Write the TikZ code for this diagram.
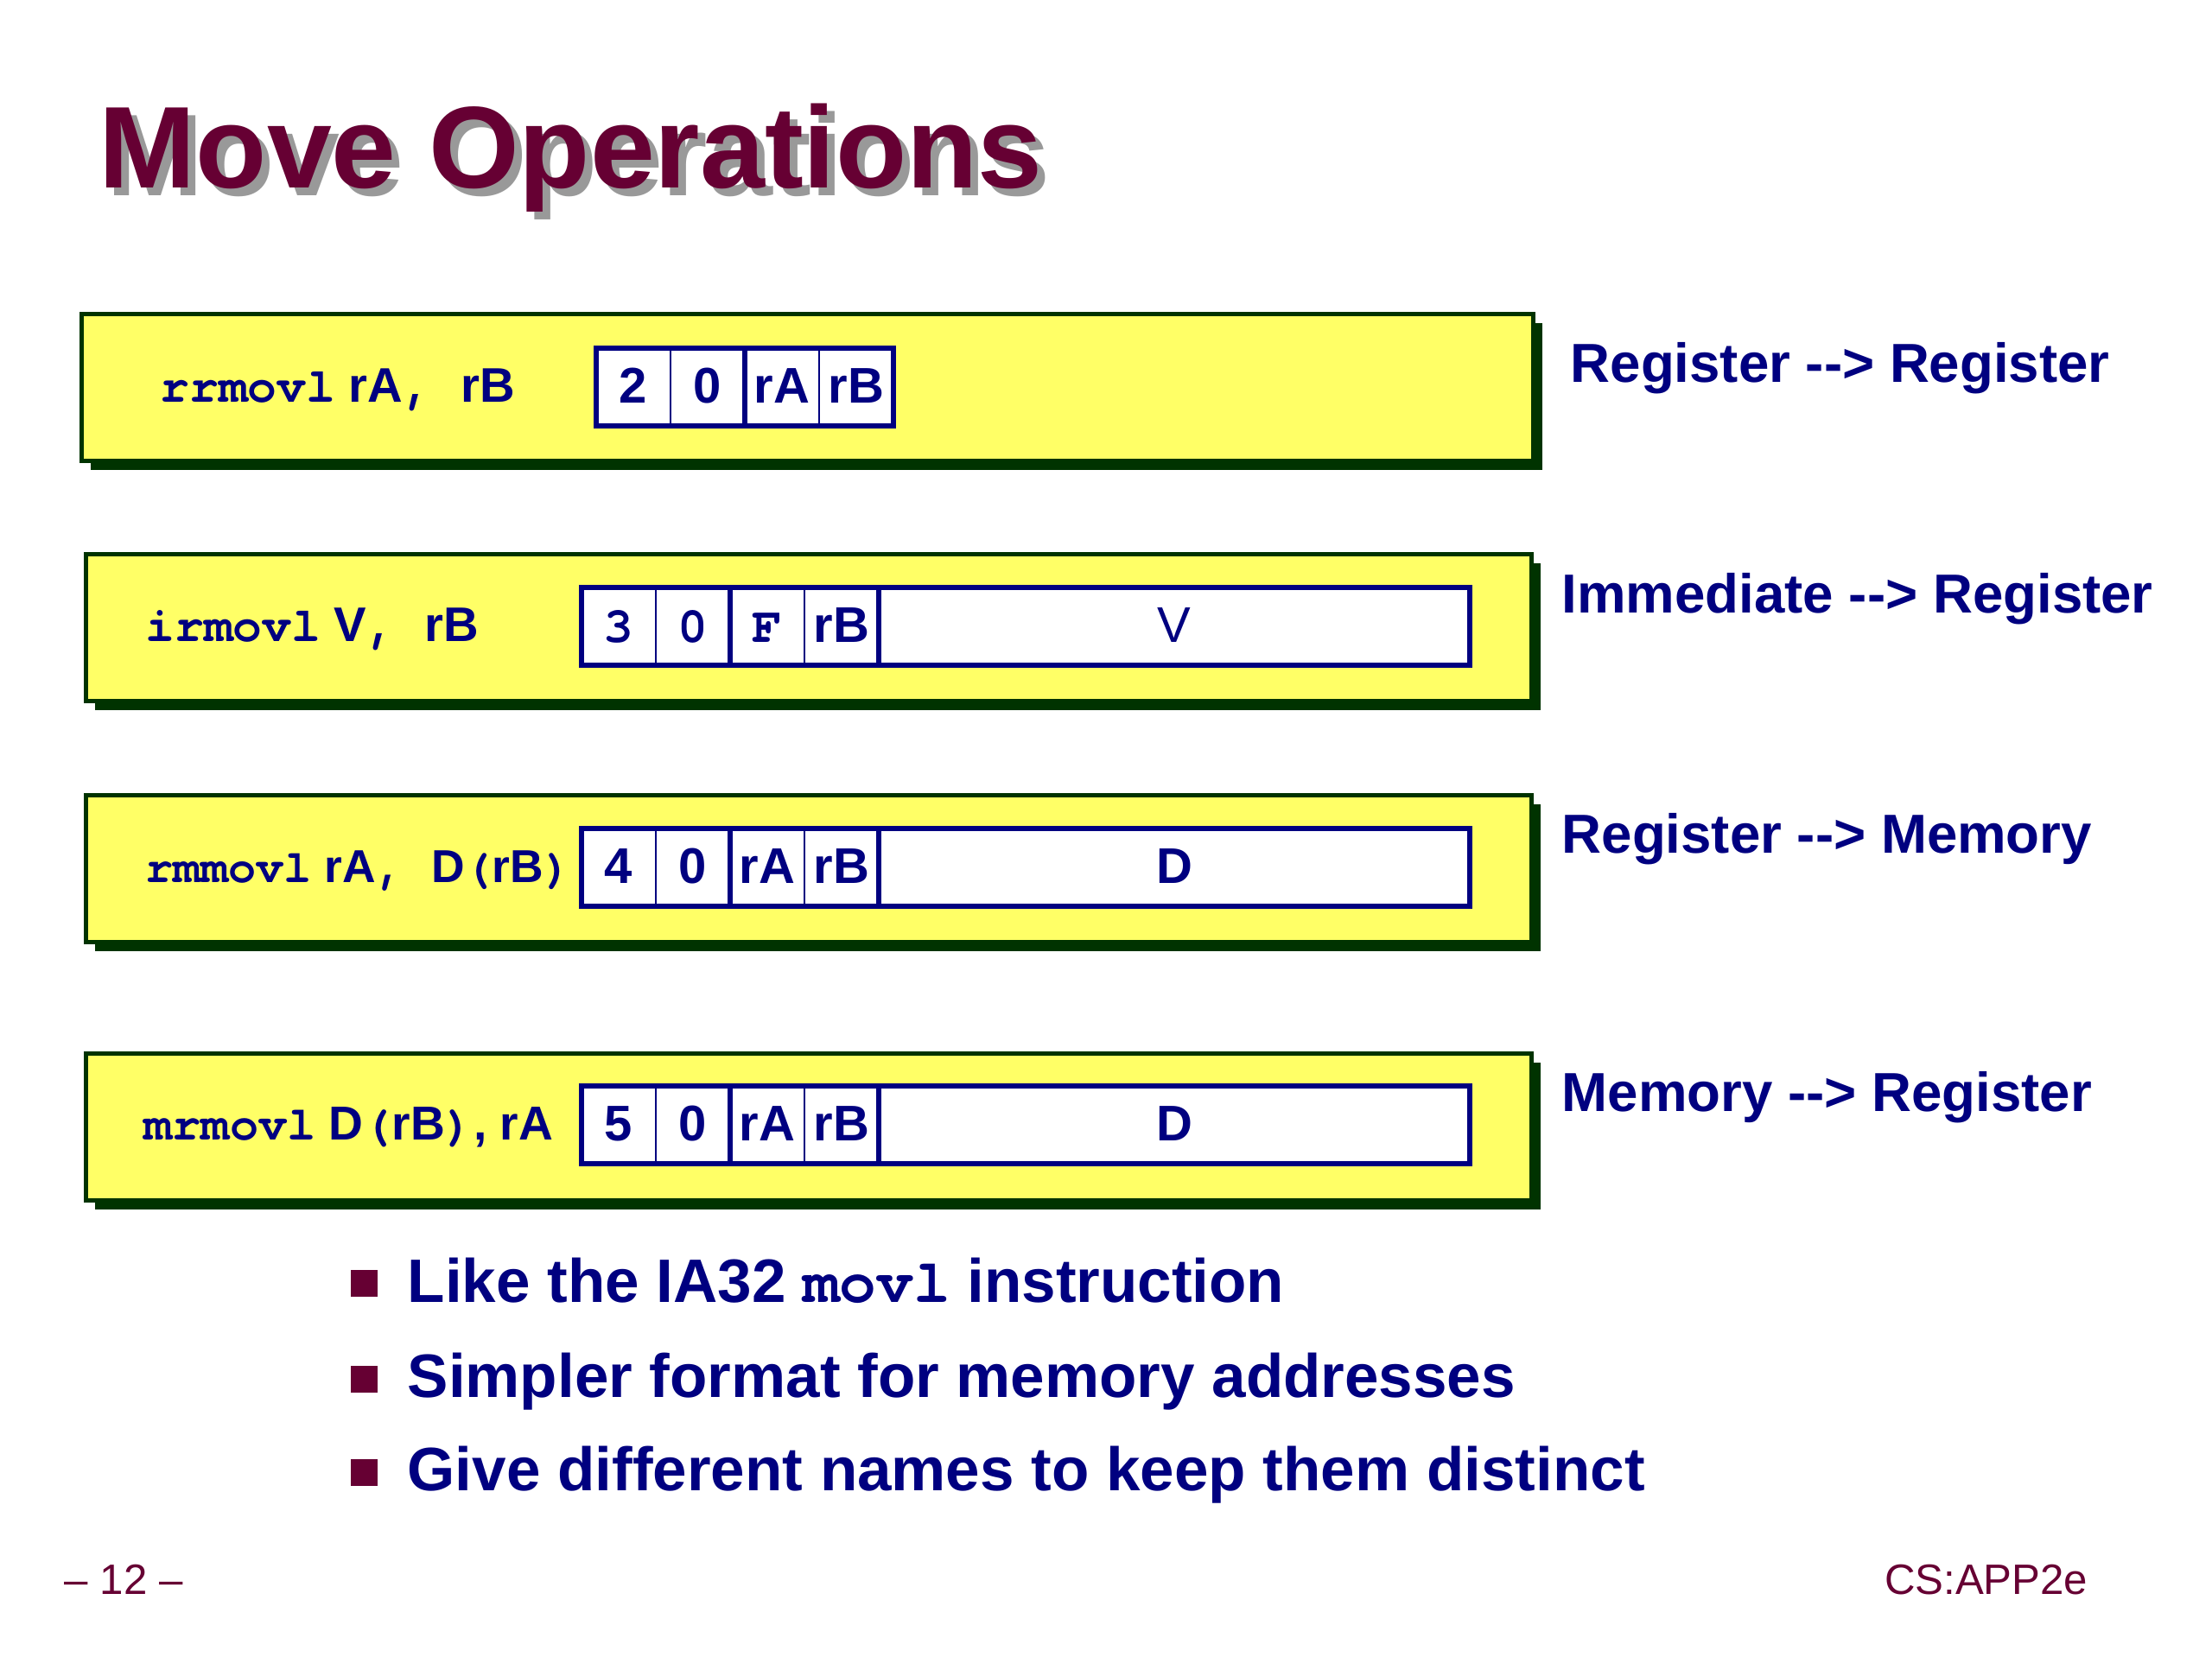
\documentclass[tikz,border=0pt]{standalone}
\usepackage{fontspec}
\setmainfont{Liberation Sans}
\setmonofont{texgyrecursor-regular.otf}[BoldFont=texgyrecursor-bold.otf]
\usetikzlibrary{positioning,shadows}

\definecolor{slidenavy}{RGB}{0,0,128}
\definecolor{slidemaroon}{RGB}{102,0,51}
\definecolor{boxyellow}{RGB}{255,255,102}
\definecolor{boxgreen}{RGB}{0,51,0}

\newcommand{\opc}[1]{{\ttfamily\bfseries #1}}
\newcommand{\cellfont}{\fontsize{16.5}{18}\selectfont\bfseries}

\tikzset{
  instrbox/.style={draw=boxgreen, line width=1.3pt, fill=boxyellow, anchor=north west,
    inner sep=0, minimum height=1.70cm,
    drop shadow={shadow xshift=0.11cm, shadow yshift=-0.11cm, fill=boxgreen, opacity=1}},
  cell/.style={draw=slidenavy, line width=0.6pt, fill=white, inner sep=0, outer sep=0,
    minimum width=0.86cm, minimum height=0.90cm, anchor=west, text=slidenavy,
    text height=2ex, text depth=0pt, font=\cellfont},
  encframe/.style={draw=slidenavy, line width=1.5pt},
  oplabel/.style={anchor=base west, inner sep=0, text=slidenavy,
    font=\fontsize{16}{18}\selectfont\bfseries},
  kindlabel/.style={anchor=base west, inner sep=0, text=slidenavy,
    font=\fontsize{18.1}{20}\selectfont\bfseries},
  pointtext/.style={anchor=base west, inner sep=0, text=slidenavy,
    font=\fontsize{20.2}{23}\selectfont\bfseries},
  bulletsq/.style={fill=slidemaroon, inner sep=0, minimum size=0.31cm},
  titletext/.style={anchor=base west, inner sep=0, font=\fontsize{38.3}{42}\selectfont\bfseries},
  foot/.style={inner sep=0, text=slidemaroon, font=\fontsize{14}{16}\selectfont},
}

\begin{document}
\begin{tikzpicture}
\useasboundingbox[fill=white] (0,0) rectangle (25.6,-19.18);

% title
\node[titletext, text=black!40] (titleshade) at (1.23,-2.27) {Move Operations};
\node[titletext, text=slidemaroon] (title) at (1.14,-2.18) {Move Operations};

% instruction boxes
\node[instrbox, minimum width=16.80cm] (rrbox) at (0.92,-3.61) {};
\node[instrbox, minimum width=16.73cm] (irbox) at (0.97,-6.39) {};
\node[instrbox, minimum width=16.73cm] (rmbox) at (0.97,-9.18) {};
\node[instrbox, minimum width=16.73cm] (mrbox) at (0.97,-12.17) {};

% assembler forms
\node[oplabel] (rrtext) at (1.85,-4.66) {\opc{rrmovl} rA\opc{, }rB};
\node[oplabel] (irtext) at (1.68,-7.43) {\opc{irmovl} V\opc{, }rB};
\node[oplabel, font=\fontsize{15.2}{18}\selectfont\bfseries] (rmtext) at (1.68,-10.22)
  {\opc{rmmovl} rA\opc{, }D\opc{(}rB\opc{)}};
\node[oplabel, font=\fontsize{15.7}{18}\selectfont\bfseries] (mrtext) at (1.66,-13.20)
  {\opc{mrmovl} D\opc{(}rB\opc{)}, rA};

% rrmovl encoding
\node[cell] (rr1) at (6.90,-4.48) {2};
\node[cell, right=0pt of rr1] (rr2) {0};
\node[cell, right=0pt of rr2] (rr3) {rA};
\node[cell, right=0pt of rr3] (rr4) {rB};
\draw[encframe] (rr1.north west) rectangle (rr4.south east);
\draw[encframe] (rr2.north east) -- (rr2.south east);

% irmovl encoding
\node[cell] (ir1) at (6.73,-7.25) {\opc{3}};
\node[cell, right=0pt of ir1] (ir2) {\opc{0}};
\node[cell, right=0pt of ir2] (ir3) {\opc{F}};
\node[cell, right=0pt of ir3] (ir4) {rB};
\node[cell, right=0pt of ir4, minimum width=6.84cm] (ir5) {\mdseries V};
\draw[encframe] (ir1.north west) rectangle (ir5.south east);
\draw[encframe] (ir2.north east) -- (ir2.south east) (ir4.north east) -- (ir4.south east);

% rmmovl encoding
\node[cell] (rm1) at (6.73,-10.04) {4};
\node[cell, right=0pt of rm1] (rm2) {0};
\node[cell, right=0pt of rm2] (rm3) {rA};
\node[cell, right=0pt of rm3] (rm4) {rB};
\node[cell, right=0pt of rm4, minimum width=6.84cm] (rm5) {D};
\draw[encframe] (rm1.north west) rectangle (rm5.south east);
\draw[encframe] (rm2.north east) -- (rm2.south east) (rm4.north east) -- (rm4.south east);

% mrmovl encoding
\node[cell] (mr1) at (6.73,-13.02) {5};
\node[cell, right=0pt of mr1] (mr2) {0};
\node[cell, right=0pt of mr2] (mr3) {rA};
\node[cell, right=0pt of mr3] (mr4) {rB};
\node[cell, right=0pt of mr4, minimum width=6.84cm] (mr5) {D};
\draw[encframe] (mr1.north west) rectangle (mr5.south east);
\draw[encframe] (mr2.north east) -- (mr2.south east) (mr4.north east) -- (mr4.south east);

% what moves where
\node[kindlabel] (rrkind) at (18.17,-4.43) {Register -{}-> Register};
\node[kindlabel] (irkind) at (18.07,-7.10) {Immediate -{}-> Register};
\node[kindlabel] (rmkind) at (18.07,-9.88) {Register -{}-> Memory};
\node[kindlabel] (mrkind) at (18.07,-12.87) {Memory -{}-> Register};

% bullet points
\node[bulletsq] (dot1) at (4.215,-14.86) {};
\node[bulletsq] (dot2) at (4.215,-15.96) {};
\node[bulletsq] (dot3) at (4.215,-17.04) {};
\node[pointtext] (point1) at (4.71,-15.07) {Like the IA32 \opc{movl} instruction};
\node[pointtext] (point2) at (4.71,-16.17) {Simpler format for memory addresses};
\node[pointtext] (point3) at (4.71,-17.25) {Give different names to keep them distinct};

% footer
\node[foot, anchor=base west] (pageno) at (0.74,-18.45) {– 12 –};
\node[foot, anchor=base east] (course) at (24.17,-18.45) {CS:APP2e};
\end{tikzpicture}
\end{document}
